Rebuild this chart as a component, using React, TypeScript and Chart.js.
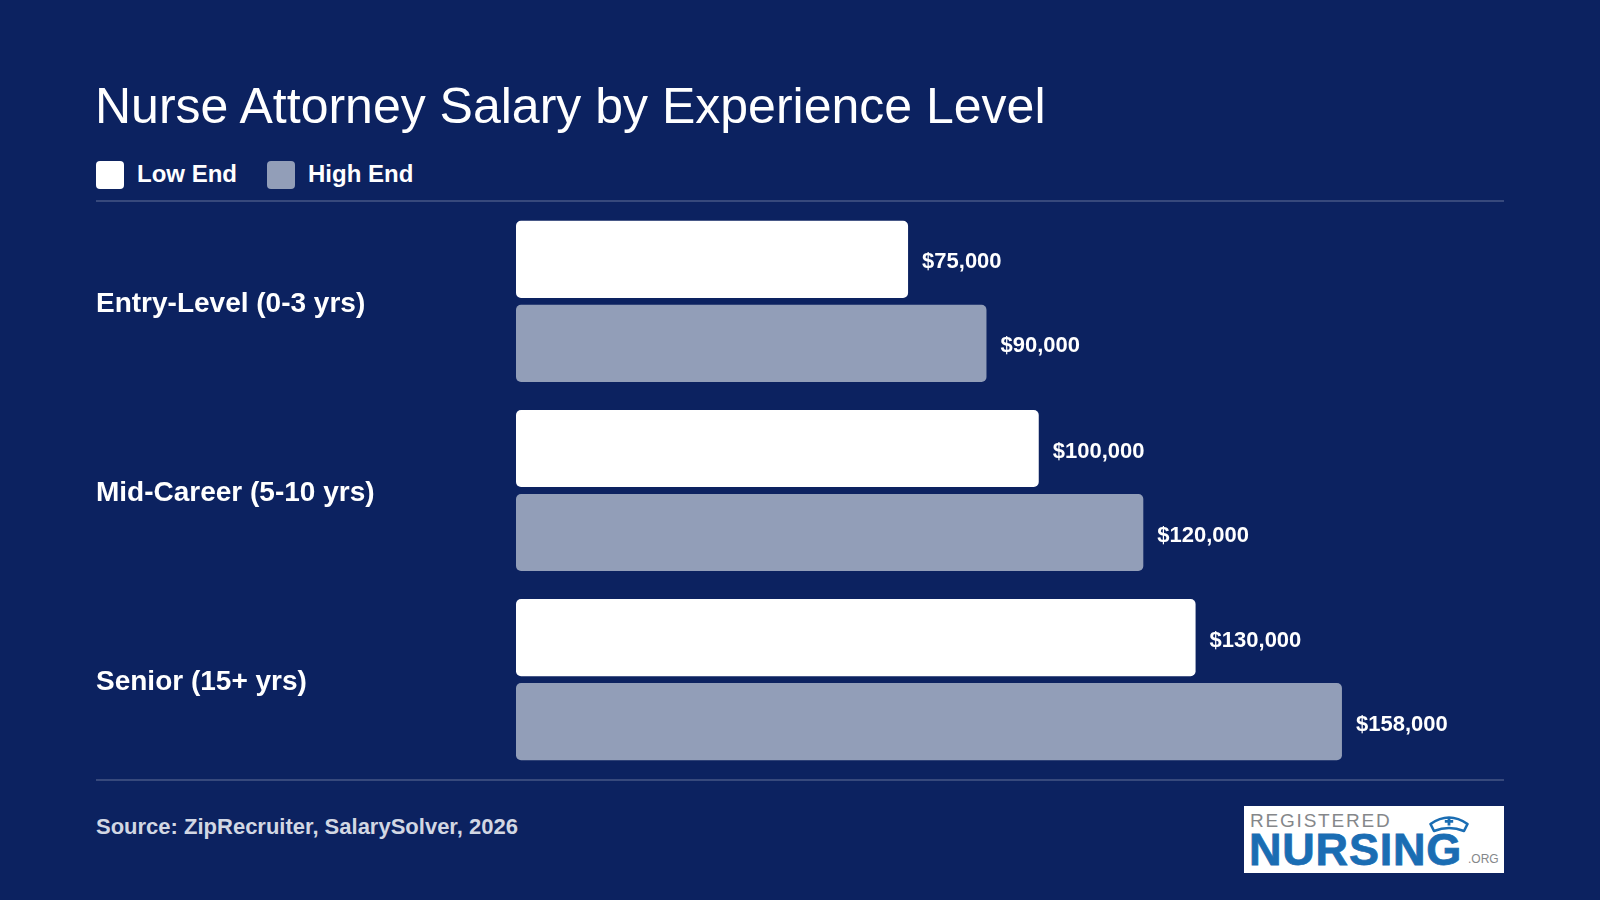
import React, { useEffect, useRef } from "react";
import { Chart, registerables } from "chart.js";

Chart.register(...registerables);

// ---- data ----
const categories = ["Entry-Level (0-3 yrs)", "Mid-Career (5-10 yrs)", "Senior (15+ yrs)"];
const lowEnd = [75000, 100000, 130000];
const highEnd = [90000, 120000, 158000];
const seriesNames = ["Low End", "High End"];
const titleText = "Nurse Attorney Salary by Experience Level";
const sourceText = "Source: ZipRecruiter, SalarySolver, 2026";

// ---- styles ----
const BG = "#0c2260";
const LOW_COLOR = "#ffffff";
const HIGH_COLOR = "#929eb8";
const DIVIDER = "rgba(255,255,255,0.18)";
const FONT = "'Liberation Sans', Arial, Helvetica, sans-serif";
const LOGO_BLUE = "#1a6db3";
const LOGO_GRAY = "#85878a";

const valueLabelPlugin = {
  id: "valueLabels",
  afterDatasetsDraw(chart: any) {
    const ctx = chart.ctx;
    ctx.save();
    ctx.font = `bold 22px ${FONT}`;
    ctx.fillStyle = "#ffffff";
    ctx.textAlign = "left";
    ctx.textBaseline = "middle";
    chart.data.datasets.forEach((ds: any, di: number) => {
      const meta = chart.getDatasetMeta(di);
      meta.data.forEach((bar: any, i: number) => {
        const v = ds.data[i] as number;
        ctx.fillText("$" + v.toLocaleString("en-US"), bar.x + 14, bar.y + 3);
      });
    });
    ctx.restore();
  },
};

function BarChart() {
  const ref = useRef<HTMLCanvasElement | null>(null);
  useEffect(() => {
    if (!ref.current) return;
    const chart = new Chart(ref.current, {
      type: "bar",
      data: {
        labels: categories,
        datasets: [
          {
            label: seriesNames[0],
            data: lowEnd,
            backgroundColor: LOW_COLOR,
            borderRadius: 5,
            borderSkipped: false,
            barPercentage: 0.917,
            categoryPercentage: 0.889,
          },
          {
            label: seriesNames[1],
            data: highEnd,
            backgroundColor: HIGH_COLOR,
            borderRadius: 5,
            borderSkipped: false,
            barPercentage: 0.917,
            categoryPercentage: 0.889,
          },
        ],
      },
      options: {
        indexAxis: "y",
        responsive: false,
        maintainAspectRatio: false,
        animation: false,
        devicePixelRatio: 1,
        layout: { padding: 0 },
        plugins: {
          legend: { display: false },
          tooltip: { enabled: false },
          title: { display: false },
        },
        scales: {
          x: {
            display: false,
            min: 0,
            max: 189000,
          },
          y: {
            grid: { display: false, drawTicks: false },
            border: { display: false },
            ticks: {
              color: "#ffffff",
              font: { family: FONT, size: 28, weight: "bold" },
              crossAlign: "far",
              padding: 0,
              labelOffset: 2.5,
            },
            afterFit: (scale: any) => {
              scale.width = 420;
            },
          },
        },
      } as any,
      plugins: [valueLabelPlugin],
    });
    return () => chart.destroy();
  }, []);
  return (
    <canvas
      ref={ref}
      width={1408}
      height={601}
      style={{ position: "absolute", left: 96, top: 190, width: 1408, height: 601, display: "block" }}
    />
  );
}

function Logo() {
  return (
    <div
      style={{
        position: "absolute",
        left: 1244,
        top: 806,
        width: 260,
        height: 67,
        background: "#ffffff",
        overflow: "hidden",
        fontFamily: FONT,
      }}
    >
      <div
        style={{
          position: "absolute",
          left: 6,
          top: 4.5,
          fontSize: 19,
          lineHeight: "19px",
          letterSpacing: 1.8,
          color: LOGO_GRAY,
          whiteSpace: "nowrap",
        }}
      >
        REGISTERED
      </div>
      <div
        style={{
          position: "absolute",
          left: 5,
          top: 21,
          fontSize: 45,
          lineHeight: "45px",
          fontWeight: 700,
          letterSpacing: 0.8,
          color: LOGO_BLUE,
          whiteSpace: "nowrap",
          WebkitTextStroke: `0.8px ${LOGO_BLUE}`,
        }}
      >
        NURSING
      </div>
      <div
        style={{
          position: "absolute",
          left: 224,
          top: 47,
          fontSize: 12,
          lineHeight: "12px",
          color: LOGO_GRAY,
          whiteSpace: "nowrap",
        }}
      >
        .ORG
      </div>
      <svg
        width={42}
        height={18}
        viewBox="0 0 42 18"
        style={{ position: "absolute", left: 184, top: 9 }}
      >
        <path
          d="M2.5,9 Q21,-4 39.5,9 L36,16 Q21,10 6,16 Z"
          fill="#ffffff"
          stroke={LOGO_BLUE}
          strokeWidth={2.6}
          strokeLinejoin="round"
        />
        <path d="M19.6,2.2 h2.8 v2.8 h2.8 v2.8 h-2.8 v2.8 h-2.8 v-2.8 h-2.8 v-2.8 h2.8 z" fill={LOGO_BLUE} />
      </svg>
    </div>
  );
}

export default function App() {
  return (
    <div
      style={{
        position: "fixed",
        left: 0,
        top: 0,
        width: 1600,
        height: 900,
        background: BG,
        overflow: "hidden",
        fontFamily: FONT,
        color: "#ffffff",
      }}
    >
      <div
        style={{
          position: "absolute",
          left: 95,
          top: 81,
          fontSize: 50,
          lineHeight: "50px",
          fontWeight: 400,
          whiteSpace: "nowrap",
        }}
      >
        {titleText}
      </div>

      {/* legend */}
      <div style={{ position: "absolute", left: 96, top: 161, width: 28, height: 28, borderRadius: 4, background: LOW_COLOR }} />
      <div
        style={{ position: "absolute", left: 137, top: 162, fontSize: 24, lineHeight: "24px", fontWeight: 700, whiteSpace: "nowrap" }}
      >
        {seriesNames[0]}
      </div>
      <div style={{ position: "absolute", left: 267, top: 161, width: 28, height: 28, borderRadius: 4, background: HIGH_COLOR }} />
      <div
        style={{ position: "absolute", left: 308, top: 162, fontSize: 24, lineHeight: "24px", fontWeight: 700, whiteSpace: "nowrap" }}
      >
        {seriesNames[1]}
      </div>

      {/* dividers */}
      <div style={{ position: "absolute", left: 96, top: 200, width: 1408, height: 2, background: DIVIDER }} />
      <div style={{ position: "absolute", left: 96, top: 779, width: 1408, height: 2, background: DIVIDER }} />

      <BarChart />

      <div
        style={{
          position: "absolute",
          left: 96,
          top: 816,
          fontSize: 22,
          lineHeight: "22px",
          fontWeight: 700,
          color: "#d2d7e3",
          whiteSpace: "nowrap",
        }}
      >
        {sourceText}
      </div>

      <Logo />
    </div>
  );
}
